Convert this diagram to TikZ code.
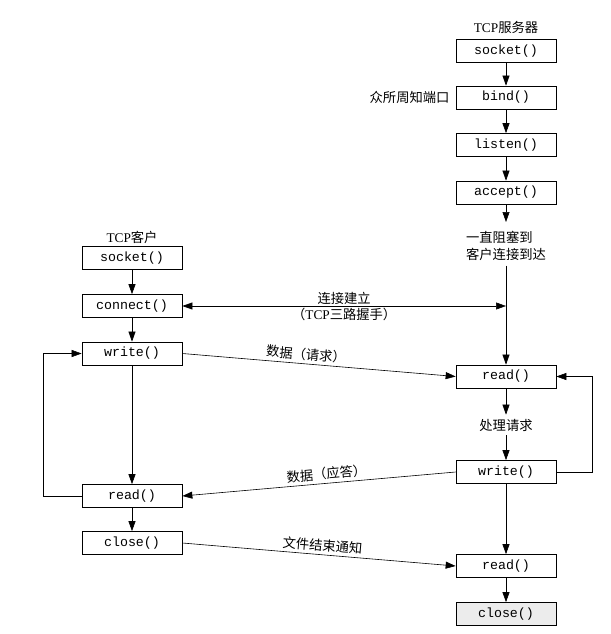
\documentclass[tikz,border=0pt]{standalone}
\usepackage{fontspec}
\setmainfont{Liberation Serif}
\setmonofont{Liberation Mono}
\newfontfamily\cjk{Noto Sans CJK SC}
\usetikzlibrary{arrows.meta, positioning}
\tikzstyle{call} = [draw,line width=0.7pt,minimum width=100pt,minimum height=23pt,inner sep=0pt,font=\fontsize{13.3}{15}\selectfont\ttfamily]
\tikzstyle{note} = [inner sep=1pt,font=\fontsize{13.3}{16.5}\selectfont\cjk]
\tikzstyle{flow} = [line width=0.6pt,->,>={Triangle[length=10pt,width=7pt]}]

\begin{document}
\begin{tikzpicture}[x=1pt,y=-1pt]
  \useasboundingbox (0,0) rectangle (610,634);
  % server side
  \node (stitle) [note] at (506,27) {{\rmfamily TCP}服务器};
  \node (ssocket) [call] at (506,51) {socket()};
  \node (sbind) [call] at (506,97.5) {bind()};
  \node (sport) [note,left=5pt of sbind] {众所周知端口};
  \node (slisten) [call] at (506,145) {listen()};
  \node (saccept) [call] at (506,192.5) {accept()};
  \coordinate (sblock) at (506,222);
  \node (swait) [note,align=left,inner sep=5pt] at (506,246) {一直阻塞到\\客户连接到达};
  \coordinate (sconn) at (506,306);
  \node (sread) [call] at (506,376.5) {read()};
  \node (sproc) [note,inner sep=4pt] at (506,425) {处理请求};
  \node (swrite) [call] at (506,472) {write()};
  \node (sread2) [call] at (506,566) {read()};
  \node (sclose) [call,fill=gray!15] at (506,614) {close()};
  % client side
  \node (ctitle) [note] at (132,237) {{\rmfamily TCP}客户};
  \node (csocket) [call] at (132,258) {socket()};
  \node (cconnect) [call] at (132,306) {connect()};
  \node (cwrite) [call] at (132,353.5) {write()};
  \node (cread) [call] at (132,496) {read()};
  \node (cclose) [call] at (132,543) {close()};

  \draw [flow] (ssocket) -- (sbind);
  \draw [flow] (sbind) -- (slisten);
  \draw [flow] (slisten) -- (saccept);
  \draw [flow] (saccept) -- (sblock);
  \draw [flow] (swait) -- (sread);
  \draw [flow] (sread) -- (sproc);
  \draw [flow] (sproc) -- (swrite);
  \draw [flow] (swrite) -- (sread2);
  \draw [flow] (sread2) -- (sclose);
  \draw [flow] (swrite.east) -- ++(36,0) |- (sread.east);

  \draw [flow] (csocket) -- (cconnect);
  \draw [flow] (cconnect) -- (cwrite);
  \draw [flow] (cwrite) -- (cread);
  \draw [flow] (cread) -- (cclose);
  \draw [flow] (cread.west) -- ++(-38,0) |- (cwrite.west);

  % messages
  \draw [flow,<->] (cconnect.east) -- node [note,above=0.5pt] {连接建立} node [note,below=0.5pt] {（{\rmfamily TCP}三路握手）} (sconn);
  \draw [flow] (cwrite.east) -- node [note,pos=0.45,sloped,above=2pt] {数据（请求）} (sread.west);
  \draw [flow] (swrite.west) -- node [note,pos=0.47,sloped,above=2pt] {数据（应答）} (cread.east);
  \draw [flow] (cclose.east) -- node [note,pos=0.51,sloped,above=2pt] {文件结束通知} (sread2.west);
\end{tikzpicture}
\end{document}
